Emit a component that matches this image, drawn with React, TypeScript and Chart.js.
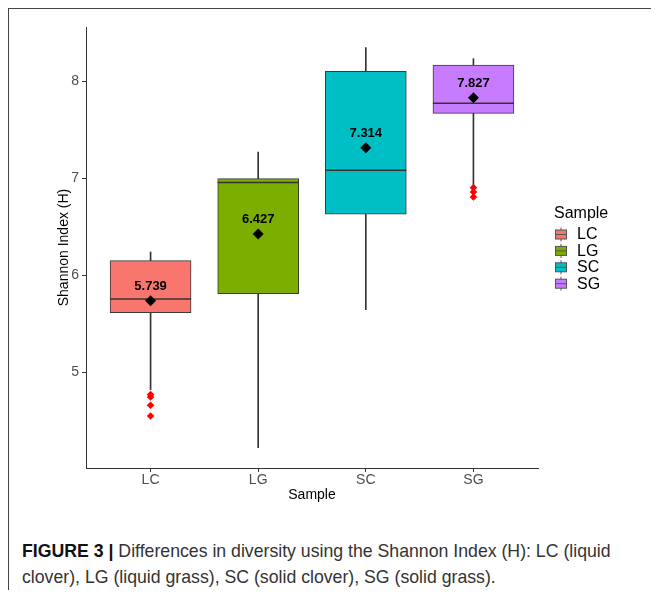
import React, { useEffect, useRef } from "react";
import { Chart, registerables } from "chart.js";

Chart.register(...registerables);

const categories = ["LC", "LG", "SC", "SG"];
const whiskerLow = [4.825, 4.228, 5.648, 6.917];
const q1 = [5.617, 5.813, 6.629, 7.668];
const medians = [5.757, 6.955, 7.081, 7.771];
const q3 = [6.152, 6.996, 8.1, 8.165];
const whiskerHigh = [6.241, 7.27, 8.344, 8.23];
const means = [5.739, 6.427, 7.314, 7.827];
const outlierGroups = ["LC", "LC", "LC", "LC", "SG", "SG", "SG"];
const outlierValues = [4.774, 4.749, 4.664, 4.553, 6.903, 6.858, 6.807];
const colors = ["#F8766D", "#7CAE00", "#00BFC4", "#C77CFF"];
const yTicks = [5, 6, 7, 8];

const FONT = '"Liberation Sans", Arial, sans-serif';

const medianPlugin = {
  id: "medians",
  afterDatasetDraw(chart: any, args: any) {
    if (args.index !== 1) return;
    const ctx = chart.ctx;
    const ys = chart.scales.y;
    ctx.save();
    ctx.strokeStyle = "#333";
    ctx.lineWidth = 1.5;
    args.meta.data.forEach((el: any, i: number) => {
      const py = ys.getPixelForValue(medians[i]);
      ctx.beginPath();
      ctx.moveTo(el.x - el.width / 2, py);
      ctx.lineTo(el.x + el.width / 2, py);
      ctx.stroke();
    });
    ctx.restore();
  },
};

const meanLabelPlugin = {
  id: "meanLabels",
  afterDatasetsDraw(chart: any) {
    const ctx = chart.ctx;
    const meta = chart.getDatasetMeta(3);
    ctx.save();
    ctx.fillStyle = "#000";
    ctx.font = "bold 13px " + FONT;
    ctx.textAlign = "center";
    ctx.textBaseline = "middle";
    meta.data.forEach((pt: any, i: number) => {
      ctx.fillText(means[i].toFixed(3), pt.x, pt.y - 14.5);
    });
    ctx.restore();
  },
};

const legendPlugin = {
  id: "boxLegend",
  afterDraw(chart: any) {
    const ctx = chart.ctx;
    ctx.save();
    ctx.fillStyle = "#000";
    ctx.font = "16px " + FONT;
    ctx.textAlign = "left";
    ctx.textBaseline = "middle";
    ctx.fillText("Sample", 546, 205.5);
    categories.forEach((c, i) => {
      const cy = 226.5 + i * 16.4;
      ctx.strokeStyle = "#555";
      ctx.lineWidth = 1;
      ctx.beginPath();
      ctx.moveTo(553, cy - 7);
      ctx.lineTo(553, cy + 7);
      ctx.stroke();
      ctx.fillStyle = colors[i];
      ctx.fillRect(547.5, cy - 4.5, 11, 9);
      ctx.strokeRect(547.5, cy - 4.5, 11, 9);
      ctx.beginPath();
      ctx.moveTo(547.5, cy);
      ctx.lineTo(558.5, cy);
      ctx.stroke();
      ctx.fillStyle = "#000";
      ctx.fillText(c, 569, cy + 0.5);
    });
    ctx.restore();
  },
};

export default function App() {
  const ref = useRef<HTMLCanvasElement>(null);

  useEffect(() => {
    document.body.style.overflow = "hidden";
    const canvas = ref.current!;
    const chart = new Chart(canvas, {
      type: "bar",
      data: {
        datasets: [
          {
            label: "whisker",
            data: categories.map((_, i) => ({ x: i + 1, y: [whiskerLow[i], whiskerHigh[i]] })) as any,
            backgroundColor: "#333",
            borderWidth: 0,
            barThickness: 1,
            grouped: false,
            order: 3,
          },
          {
            label: "box",
            data: categories.map((_, i) => ({ x: i + 1, y: [q1[i], q3[i]] })) as any,
            backgroundColor: colors,
            borderColor: "#3a3a3a",
            borderWidth: 1,
            borderSkipped: false,
            barThickness: 81,
            grouped: false,
            order: 2,
          },
          {
            type: "scatter",
            label: "outliers",
            data: outlierValues.map((v, i) => ({ x: categories.indexOf(outlierGroups[i]) + 1, y: v })),
            pointStyle: "rectRot",
            pointRadius: 3.8,
            backgroundColor: "#FF0000",
            borderColor: "#FF0000",
            borderWidth: 0,
            order: 1,
          } as any,
          {
            type: "scatter",
            label: "mean",
            data: means.map((m, i) => ({ x: i + 1, y: m })),
            pointStyle: "rectRot",
            pointRadius: 5.5,
            backgroundColor: "#000",
            borderColor: "#000",
            borderWidth: 0,
            order: 0,
          } as any,
        ],
      },
      options: {
        responsive: false,
        animation: false,
        events: [],
        layout: { padding: { left: 0, right: 121, top: 19, bottom: 0 } },
        plugins: {
          legend: { display: false },
          tooltip: { enabled: false },
        },
        scales: {
          x: {
            type: "linear",
            min: 0.4,
            max: 4.6,
            offset: false,
            afterBuildTicks: (s: any) => {
              s.ticks = categories.map((_, i) => ({ value: i + 1 }));
            },
            afterFit: (s: any) => {
              s.height = 40;
            },
            ticks: {
              callback: (v: any) => categories[Math.round(v) - 1] ?? "",
              color: "#4D4D4D",
              font: { family: FONT, size: 14 },
              padding: 0,
              maxRotation: 0,
              autoSkip: false,
            },
            grid: {
              display: true,
              drawOnChartArea: false,
              drawTicks: true,
              tickLength: 4,
              color: "#333",
              offset: false,
            },
            border: { display: true, color: "#333", width: 1 },
            title: {
              display: true,
              text: "Sample",
              color: "#000",
              font: { family: FONT, size: 14 },
              padding: { top: 0, bottom: 4.6 },
            },
          },
          y: {
            min: 4.018,
            max: 8.556,
            afterBuildTicks: (s: any) => {
              s.ticks = yTicks.map((v) => ({ value: v }));
            },
            afterFit: (s: any) => {
              s.width = 78;
            },
            ticks: {
              color: "#4D4D4D",
              font: { family: FONT, size: 14 },
              padding: 3,
            },
            grid: {
              display: true,
              drawOnChartArea: false,
              drawTicks: true,
              tickLength: 4,
              color: "#333",
            },
            border: { display: true, color: "#333", width: 1 },
            title: {
              display: true,
              text: "Shannon Index (H)",
              color: "#000",
              font: { family: FONT, size: 14 },
              padding: { top: 47.6, bottom: 0 },
            },
          },
        },
      },
      plugins: [medianPlugin, meanLabelPlugin, legendPlugin],
    });
    return () => chart.destroy();
  }, []);

  return (
    <div style={{ position: "relative", width: 651, height: 582 }}>
      <div
        style={{
          position: "absolute",
          left: -1,
          top: -1,
          width: 652,
          height: 590,
          borderTop: "2px solid #444",
          borderLeft: "2px solid #444",
          boxSizing: "border-box",
        }}
      />
      <canvas
        ref={ref}
        width={651}
        height={500}
        style={{ position: "absolute", left: 0, top: 0, display: "block" }}
      />
      <div
        style={{
          position: "absolute",
          left: 14,
          top: 530,
          width: 637,
          fontFamily: FONT,
          fontSize: 17.7,
          lineHeight: "26px",
          color: "#333",
          whiteSpace: "nowrap",
        }}
      >
        <b style={{ color: "#111" }}>FIGURE 3 |</b> Differences in diversity using the Shannon Index (H): LC (liquid
        <br />
        clover), LG (liquid grass), SC (solid clover), SG (solid grass).
      </div>
    </div>
  );
}
